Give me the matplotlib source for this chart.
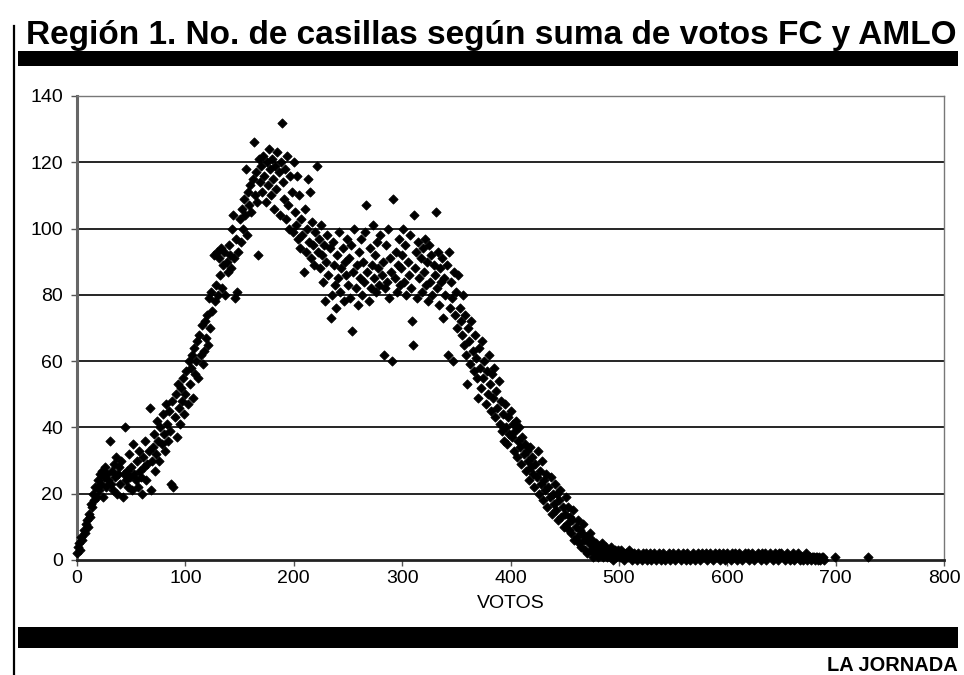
import numpy as np
import matplotlib
matplotlib.use('Agg')
import matplotlib.pyplot as plt
from matplotlib import font_manager
from matplotlib.patches import Rectangle
from matplotlib.lines import Line2D

TITULO = 'Región 1. No. de casillas según suma de votos FC y AMLO'
FUENTE = 'LA JORNADA'
ETIQUETA_X = 'VOTOS'

# casillas por suma de votos, votos = 0 .. 499
casillas = [
    2, 4, 5, 3, 7, 6, 9, 8, 11, 12,
    10, 14, 13, 17, 16, 20, 18, 22, 19, 24,
    21, 26, 23, 27, 19, 25, 28, 22, 26, 24,
    36, 23, 27, 21, 29, 25, 31, 20, 26, 28,
    23, 30, 19, 26, 40, 24, 27, 22, 32, 25,
    28, 21, 35, 26, 24, 30, 22, 33, 27, 25,
    20, 31, 28, 36, 24, 29, 33, 46, 21, 30,
    34, 38, 27, 32, 42, 36, 30, 40, 35, 44,
    38, 33, 47, 41, 36, 45, 39, 23, 48, 22,
    43, 50, 37, 53, 46, 41, 52, 48, 55, 44,
    50, 57, 47, 60, 53, 58, 62, 49, 64, 56,
    60, 66, 55, 68, 62, 71, 59, 63, 72, 67,
    74, 65, 79, 70, 81, 75, 92, 78, 83, 93,
    80, 91, 86, 94, 82, 89, 93, 80, 90, 87,
    95, 92, 88, 100, 104, 91, 79, 97, 81, 93,
    103, 96, 106, 100, 109, 104, 118, 98, 111, 107,
    113, 105, 115, 126, 110, 117, 108, 92, 121, 114,
    119, 111, 122, 116, 108, 120, 113, 124, 118, 110,
    121, 115, 106, 119, 112, 123, 117, 104, 120, 132,
    114, 109, 118, 103, 122, 107, 100, 116, 111, 99,
    120, 105, 101, 116, 97, 110, 94, 103, 98, 87,
    106, 93, 100, 115, 96, 111, 91, 102, 95, 89,
    99, 119, 93, 97, 88, 101, 92, 84, 95, 78,
    90, 98, 86, 94, 73, 80, 96, 89, 83, 76,
    92, 85, 99, 81, 88, 94, 78, 90, 86, 97,
    83, 91, 79, 95, 69, 87, 100, 82, 89, 77,
    93, 85, 97, 80, 90, 84, 99, 107, 87, 78,
    94, 82, 89, 101, 85, 92, 81, 96, 88, 83,
    98, 86, 90, 62, 82, 95, 84, 100, 79, 91,
    87, 60, 109, 85, 93, 81, 89, 97, 83, 88,
    92, 100, 84, 95, 80, 90, 86, 98, 82, 72,
    65, 104, 88, 93, 79, 96, 85, 91, 81, 94,
    87, 97, 83, 90, 78, 95, 84, 92, 80, 89,
    86, 105, 82, 93, 77, 88, 84, 91, 73, 85,
    80, 89, 62, 93, 76, 84, 79, 60, 87, 74,
    81, 70, 86, 76, 72, 68, 80, 65, 74, 62,
    53, 70, 66, 59, 72, 63, 57, 68, 61, 55,
    49, 64, 58, 52, 66, 55, 60, 47, 57, 50,
    62, 53, 45, 56, 49, 58, 43, 51, 46, 54,
    41, 48, 39, 44, 36, 47, 40, 35, 43, 38,
    45, 37, 41, 33, 39, 42, 31, 36, 40, 34,
    29, 37, 32, 35, 27, 33, 30, 24, 34, 28,
    31, 26, 22, 29, 25, 33, 20, 27, 23, 30,
    18, 24, 21, 26, 16, 22, 19, 25, 14, 20,
    17, 23, 15, 20, 12, 18, 21, 13, 16, 10,
    14, 19, 11, 16, 9, 13, 8, 12, 15, 6,
    10, 7, 12, 5, 9, 4, 8, 11, 6, 3,
    7, 2, 5, 8, 3, 6, 1, 4, 2, 5,
    3, 1, 4, 2, 5, 1, 3, 2, 4, 1,
    2, 3, 1, 4, 2, 0, 3, 1, 2, 3,
]

# cola: votos = 500 .. 689
casillas_cola = [
    2, 1, 3, 1, 2, 0, 1, 2, 1, 3,
    1, 2, 0, 1, 2, 1, 1, 0, 2, 1,
    1, 0, 2, 1, 1, 2, 0, 1, 1, 2,
    0, 1, 2, 1, 0, 1, 1, 2, 1, 0,
    1, 2, 1, 0, 1, 1, 2, 0, 1, 1,
    2, 1, 0, 1, 1, 2, 1, 0, 1, 2,
    1, 1, 0, 2, 1, 1, 0, 1, 2, 1,
    0, 1, 1, 2, 1, 0, 1, 2, 1, 1,
    2, 0, 1, 1, 2, 1, 1, 0, 1, 2,
    1, 1, 2, 0, 1, 1, 2, 1, 0, 1,
    2, 1, 1, 0, 2, 1, 1, 2, 1, 0,
    1, 2, 1, 1, 0, 1, 2, 1, 1, 2,
    0, 1, 1, 2, 1, 0, 1, 1, 2, 1,
    1, 0, 2, 1, 1, 2, 0, 1, 1, 2,
    1, 1, 0, 1, 2, 1, 1, 0, 2, 1,
    2, 1, 1, 0, 1, 2, 1, 1, 0, 1,
    1, 2, 0, 1, 1, 2, 1, 0, 1, 1,
    0, 1, 1, 2, 0, 1, 1, 0, 1, 1,
    1, 0, 1, 1, 0, 1, 0, 1, 1, 0,
]

votos_aislados = [699, 730]
casillas_aisladas = [1, 1]

xticks = [0, 100, 200, 300, 400, 500, 600, 700, 800]
yticks = [0, 20, 40, 60, 80, 100, 120, 140]


def main():
    nombres = {f.name for f in font_manager.fontManager.ttflist}
    fam = 'Liberation Sans' if 'Liberation Sans' in nombres else 'DejaVu Sans'
    plt.rcParams['font.family'] = [fam, 'DejaVu Sans']

    W, H = 964, 675
    fig = plt.figure(figsize=(W / 100, H / 100), dpi=100)
    fig.patch.set_facecolor('white')

    def fx(px):
        return px / W

    def fy(py):
        return 1 - py / H

    # decoracion de pagina
    fig.add_artist(Line2D([fx(14), fx(14)], [fy(26), fy(675)], color='black', lw=1.6))
    fig.add_artist(Rectangle((fx(18), fy(66)), fx(958) - fx(18), fy(51) - fy(66),
                             color='black', lw=0))
    fig.add_artist(Rectangle((fx(18), fy(648)), fx(958) - fx(18), fy(627) - fy(648),
                             color='black', lw=0))

    # titulo ajustado al ancho de la barra
    t = fig.text(fx(26), fy(44), TITULO, fontsize=24, fontweight='bold',
                 va='baseline', ha='left')
    fig.canvas.draw()
    t.set_fontsize(24 * 932 / t.get_window_extent().width)

    pie = fig.text(fx(958), fy(671), FUENTE, fontsize=13, fontweight='bold',
                   va='baseline', ha='right')
    fig.canvas.draw()
    pie.set_fontsize(13 * 130 / pie.get_window_extent().width)

    ax = fig.add_axes([fx(77), fy(560), fx(944) - fx(77), fy(96) - fy(560)])
    votos = np.arange(len(casillas))
    votos_cola = np.arange(len(casillas), len(casillas) + len(casillas_cola))
    ax.set_xlim(0, 800)
    ax.set_ylim(0, 140)

    for y in yticks[1:-1]:
        ax.axhline(y, color='black', lw=1.2, zorder=1)

    kw = dict(marker='D', s=22, color='black', edgecolors='black', linewidths=0.6, zorder=3,
              clip_on=False)
    ax.scatter(votos, casillas, **kw)
    ax.scatter(votos_cola, casillas_cola, **kw)
    ax.scatter(votos_aislados, casillas_aisladas, **kw)

    ax.set_xticks(xticks)
    ax.set_yticks(yticks)
    ax.tick_params(axis='both', labelsize=14, length=4, width=1, color='#555555', pad=3)
    ax.tick_params(axis='y', pad=6)
    for s in ['top', 'right']:
        ax.spines[s].set_color('#777777')
        ax.spines[s].set_linewidth(1.0)
    ax.spines['left'].set_color('#666666')
    ax.spines['left'].set_linewidth(2.2)
    ax.spines['bottom'].set_color('#222222')
    ax.spines['bottom'].set_linewidth(2.0)
    ax.set_xlabel(ETIQUETA_X, fontsize=14, labelpad=6)

    fig.savefig('out.png', dpi=100)


if __name__ == '__main__':
    main()
